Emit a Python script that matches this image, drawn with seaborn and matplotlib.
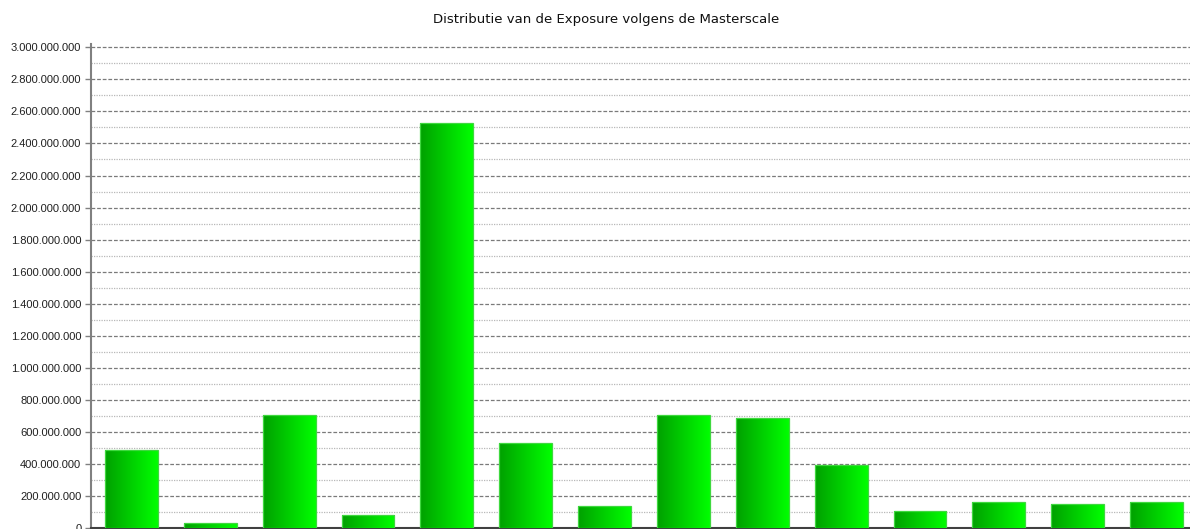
import numpy as np
import pandas as pd
import matplotlib
matplotlib.use("Agg")
import matplotlib.pyplot as plt
from matplotlib.colors import LinearSegmentedColormap
from matplotlib.ticker import FuncFormatter, MultipleLocator
import seaborn as sns

# Exposure per masterscale class
classes = ["1", "2", "3", "4", "5", "6", "7", "8", "9", "10", "11", "12", "13", "14"]
exposure = [485e6, 29e6, 703e6, 79e6, 2525e6, 528e6, 137e6,
            703e6, 686e6, 395e6, 104e6, 162e6, 150e6, 162e6]
title = "Distributie van de Exposure volgens de Masterscale"

df = pd.DataFrame({"klasse": classes, "exposure": exposure})

sns.set_theme(style="white")
plt.rcParams["font.family"] = ["Liberation Sans", "DejaVu Sans"]

W, H = 1190, 529
fig = plt.figure(figsize=(W / 100, H / 100), dpi=100)
ax = fig.add_axes([91 / W, 1 / H, (W - 91) / W, 484 / H])

sns.barplot(data=df, x="klasse", y="exposure", order=classes,
            color="#00c800", width=0.67, ax=ax, zorder=3)

ax.set_xlim(-0.513, 13.425)
ax.set_ylim(0, 3020.8e6)

# horizontal gradient fill for every bar
grad_cmap = LinearSegmentedColormap.from_list("grn", ["#00a000", "#00ff00"])
grad = np.linspace(0, 1, 256).reshape(1, -1)
for p in list(ax.patches):
    x0, y0 = p.get_x(), p.get_y()
    w, h = p.get_width(), p.get_height()
    p.set_facecolor("none")
    p.set_edgecolor("#3fd83f")
    p.set_linewidth(0.9)
    p.set_zorder(5)
    im = ax.imshow(grad, cmap=grad_cmap, aspect="auto",
                   extent=(x0, x0 + w, y0, y0 + h), zorder=4,
                   interpolation="bilinear")
    im.set_clip_path(p)
ax.set_xlim(-0.513, 13.425)
ax.set_ylim(0, 3020.8e6)

# gridlines: dashed major every 200M, dotted minor every 100M
ax.yaxis.set_major_locator(MultipleLocator(200e6))
ax.yaxis.set_minor_locator(MultipleLocator(100e6))
ax.grid(which="major", axis="y", color="#7a7a7a", linestyle=(0, (3, 1.5)), linewidth=0.9, zorder=1)
ax.grid(which="minor", axis="y", color="#b8b8b8", linestyle=(0, (1, 1)), linewidth=0.9, zorder=1)
ax.grid(axis="x", visible=False)

ax.yaxis.set_major_formatter(FuncFormatter(lambda v, _: f"{int(round(v)):,}".replace(",", ".")))
ax.tick_params(axis="y", which="major", left=True, length=4, width=1, color="#808080",
               labelsize=8, labelcolor="#202020", pad=3)
ax.tick_params(axis="y", which="minor", left=False)
ax.tick_params(axis="x", bottom=False, labelbottom=False)
ax.set_xlabel("")
ax.set_ylabel("")

for side in ("top", "right"):
    ax.spines[side].set_visible(False)
ax.spines["left"].set_color("#808080")
ax.spines["left"].set_linewidth(1.5)
ax.spines["bottom"].set_color("#404040")
ax.spines["bottom"].set_linewidth(1.5)

fig.text(606 / W, 1 - 19 / H, title, ha="center", va="center",
         fontsize=9.5, color="#101010", family=["DejaVu Sans"])

fig.savefig("out.png", dpi=100, facecolor="white")
